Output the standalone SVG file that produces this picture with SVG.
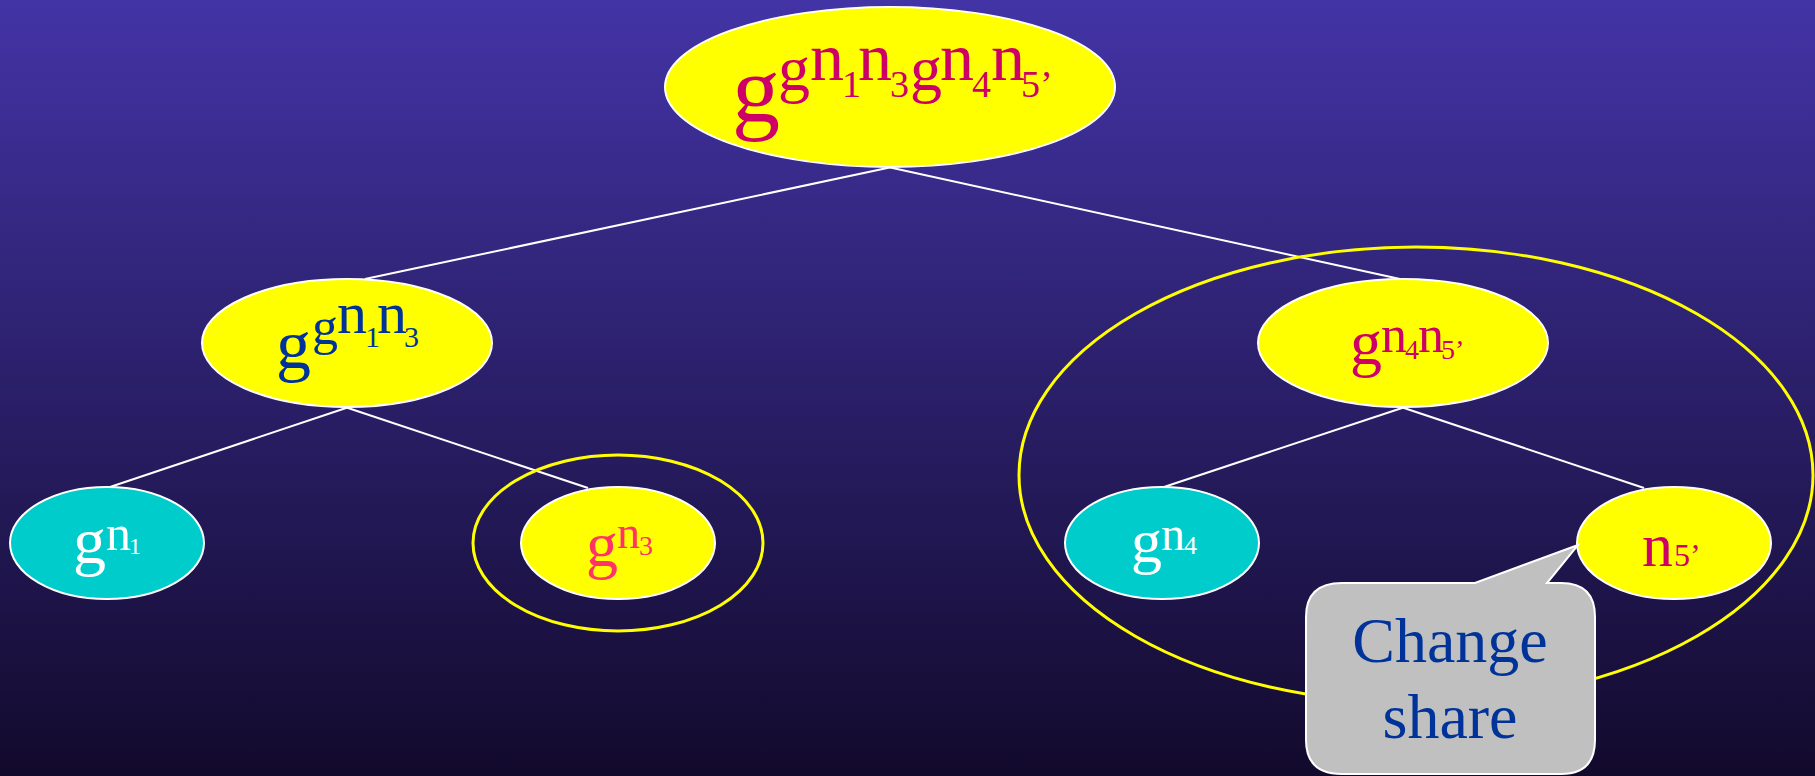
<svg xmlns="http://www.w3.org/2000/svg" width="1815" height="776" viewBox="0 0 1815 776">
<defs>
<linearGradient id="bg" x1="0" y1="0" x2="0" y2="1">
<stop offset="0" stop-color="#4334a6"/>
<stop offset="1" stop-color="#120a2c"/>
</linearGradient>
<style>
.t{font-family:"Liberation Serif","Times New Roman",serif}
.node{stroke:#ffffff;stroke-width:2}
.y{fill:#ffff00}
.c{fill:#00cccc}
.ring{fill:none;stroke:#ffff00;stroke-width:3}
.edge{stroke:#ffffff;stroke-width:2;fill:none}
</style>
</defs>
<rect x="0" y="0" width="1815" height="776" fill="url(#bg)"/>
<g id="connectors">
<line class="edge" x1="892" y1="167" x2="365" y2="279"/>
<line class="edge" x1="888" y1="167" x2="1400" y2="279"/>
<line class="edge" x1="349" y1="407" x2="110" y2="487"/>
<line class="edge" x1="345" y1="407" x2="588" y2="488"/>
<line class="edge" x1="1405" y1="407" x2="1164" y2="487"/>
<line class="edge" x1="1401" y1="407" x2="1644" y2="488"/>
</g>
<g id="root">
<ellipse class="node y" cx="890" cy="87" rx="225" ry="80"/>
<text class="t" fill="#cc0066"><tspan x="732" y="122" font-size="96">g</tspan><tspan x="778" y="90" font-size="64">g</tspan><tspan x="810" y="80" font-size="68">n</tspan><tspan x="842" y="97" font-size="38">1</tspan><tspan x="858" y="80" font-size="68">n</tspan><tspan x="890" y="97" font-size="38">3</tspan><tspan x="910" y="90" font-size="64">g</tspan><tspan x="940" y="80" font-size="68">n</tspan><tspan x="972" y="97" font-size="38">4</tspan><tspan x="991" y="80" font-size="68">n</tspan><tspan x="1021" y="97" font-size="38">5’</tspan></text>
</g>
<g id="left-mid">
<ellipse class="node y" cx="347" cy="343" rx="145" ry="64"/>
<text class="t" fill="#003399"><tspan x="276" y="368" font-size="70">g</tspan><tspan x="312" y="344" font-size="52">g</tspan><tspan x="337" y="333" font-size="60">n</tspan><tspan x="365" y="347" font-size="30">1</tspan><tspan x="377" y="333" font-size="60">n</tspan><tspan x="404" y="347" font-size="30">3</tspan></text>
</g>
<g id="right-mid">
<ellipse class="node y" cx="1403" cy="343" rx="145" ry="64"/>
<text class="t" fill="#cc0066"><tspan x="1350" y="364" font-size="64">g</tspan><tspan x="1381" y="352" font-size="52">n</tspan><tspan x="1405" y="359" font-size="28">4</tspan><tspan x="1418" y="352" font-size="52">n</tspan><tspan x="1441" y="359" font-size="28">5’</tspan></text>
</g>
<g id="leaf-n1">
<ellipse class="node c" cx="107" cy="543" rx="97" ry="56"/>
<text class="t" fill="#ffffff"><tspan x="73" y="563" font-size="66">g</tspan><tspan x="106" y="550" font-size="50">n</tspan><tspan x="129" y="554" font-size="24">1</tspan></text>
</g>
<g id="leaf-n3">
<ellipse class="ring" cx="618" cy="543" rx="145" ry="88"/>
<ellipse class="node y" cx="618" cy="543" rx="97" ry="56"/>
<text class="t" fill="#ff3366"><tspan x="586" y="566" font-size="64">g</tspan><tspan x="617" y="548" font-size="46">n</tspan><tspan x="639" y="555" font-size="28">3</tspan></text>
</g>
<g id="leaf-n4">
<ellipse class="node c" cx="1162" cy="543" rx="97" ry="56"/>
<text class="t" fill="#ffffff"><tspan x="1131" y="562" font-size="62">g</tspan><tspan x="1161" y="550" font-size="48">n</tspan><tspan x="1184" y="554" font-size="26">4</tspan></text>
</g>
<g id="leaf-n5">
<ellipse class="node y" cx="1674" cy="543" rx="97" ry="56"/>
<text class="t" fill="#cc0066"><tspan x="1642" y="566" font-size="62">n</tspan><tspan x="1674" y="566" font-size="32">5’</tspan></text>
</g>
<g id="subtree-ring">
<ellipse class="ring" cx="1416" cy="475" rx="397" ry="228"/>
</g>
<g id="callout">
<path d="M1342 583 L1475 583 L1578 545 L1547 583 L1561 583 Q1595 583 1595 617 L1595 740 Q1595 774 1561 774 L1342 774 Q1306 774 1306 740 L1306 617 Q1306 583 1342 583 Z" fill="#c0c0c0" stroke="#ffffff" stroke-width="2"/>
<text class="t" fill="#003399" font-size="64" text-anchor="middle"><tspan x="1450" y="662">Change</tspan><tspan x="1450" y="738">share</tspan></text>
</g>
</svg>
